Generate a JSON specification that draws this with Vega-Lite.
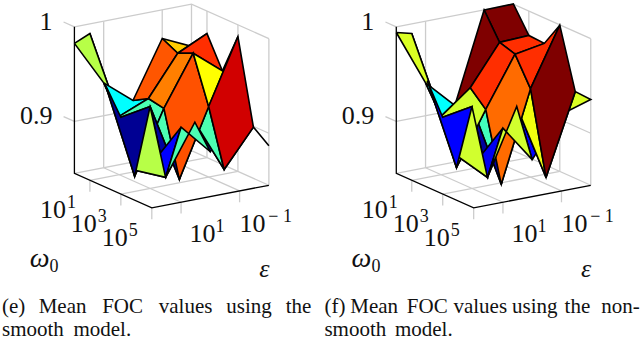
{"$schema":"https://vega.github.io/schema/vega-lite/v6.json","width":640,"height":340,"padding":0,"autosize":{"type":"fit","contains":"padding"},"background":"white","view":{"stroke":null},
"datasets":{
"cells":[
{"p":0,"w0":4,"j0":3,"level":0.1,"z":[0.8604,0.9302,0.8867,0.8992,0.8604]},
{"p":0,"w0":4,"j0":2,"level":0.125,"z":[0.9164,0.8924,0.9302,0.8604,0.9164]},
{"p":0,"w0":3,"j0":2,"level":0.45,"z":[0.8486,0.9164,0.8604,0.9197,0.8486]},
{"p":0,"w0":1,"j0":0,"level":0.02,"z":[1.0002,0.9533,0.8505,0.9067,1.0002]},
{"p":0,"w0":0,"j0":0,"level":0.555,"z":[0.9825,1.0002,0.9067,0.9348,0.9825]},
{"p":0,"w0":0,"j0":1,"level":0.375,"z":[0.9348,0.9067,0.9195,0.9101,0.9348]},
{"p":0,"w0":1,"j0":1,"level":0.45,"z":[0.9067,0.8505,0.9164,0.9195,0.9067]},
{"p":0,"w0":2,"j0":1,"level":0.45,"z":[0.8505,0.9317,0.8486,0.9164,0.8505]},
{"p":0,"w0":3,"j0":1,"level":0.03,"z":[0.9317,0.864,0.9164,0.8486,0.9317]},
{"p":0,"w0":0,"j0":3,"level":0.675,"z":[0.9697,0.9614,0.9762,0.9554,0.9697]},
{"p":0,"w0":1,"j0":3,"level":0.83,"z":[0.9614,0.9687,0.944,0.9762,0.9614]},
{"p":0,"w0":0,"j0":2,"level":0.79,"z":[0.9101,0.9195,0.9614,0.9697,0.9101]},
{"p":0,"w0":1,"j0":2,"level":0.75,"z":[0.9195,0.9164,0.9687,0.9614,0.9195]},
{"p":0,"w0":2,"j0":2,"level":0.795,"z":[0.9164,0.8486,0.9197,0.9687,0.9164]},
{"p":0,"w0":2,"j0":3,"level":0.625,"z":[0.9687,0.9197,0.9877,0.944,0.9687]},
{"p":0,"w0":3,"j0":3,"level":0.92,"z":[0.9197,0.8604,0.8992,0.9877,0.9197]},
{"p":0,"w0":4,"j0":0,"level":0.125,"z":[0.8773,0.8919,0.9244,0.864,0.8773]},
{"p":0,"w0":3,"j0":0,"level":0.555,"z":[0.9263,0.8773,0.864,0.9317,0.9263]},
{"p":0,"w0":2,"j0":0,"level":0.02,"z":[0.9533,0.9263,0.9317,0.8505,0.9533]},
{"p":0,"w0":4,"j0":1,"level":0.45,"z":[0.864,0.9244,0.8924,0.9164,0.864]},
{"p":1,"w0":4,"j0":3,"level":0.59,"z":[0.852,0.926,0.9356,0.9367,0.852]},
{"p":1,"w0":4,"j0":2,"level":0.125,"z":[0.933,0.8841,0.926,0.852,0.933]},
{"p":1,"w0":3,"j0":2,"level":0.61,"z":[0.8434,0.933,0.852,0.9385,0.8434]},
{"p":1,"w0":1,"j0":0,"level":0.12,"z":[1.0002,0.9575,0.8598,0.9067,1.0002]},
{"p":1,"w0":0,"j0":0,"level":0.59,"z":[0.994,1.0002,0.9067,0.9348,0.994]},
{"p":1,"w0":0,"j0":1,"level":0.375,"z":[0.9348,0.9067,0.9309,0.9049,0.9348]},
{"p":1,"w0":2,"j0":1,"level":0.44,"z":[0.8598,0.9317,0.8434,0.9153,0.8598]},
{"p":1,"w0":3,"j0":1,"level":0.03,"z":[0.9317,0.864,0.933,0.8434,0.9317]},
{"p":1,"w0":0,"j0":3,"level":1,"z":[0.9999,0.9729,0.9742,1.0002,0.9999]},
{"p":1,"w0":1,"j0":3,"level":0.83,"z":[0.9729,0.9677,0.9731,0.9742,0.9729]},
{"p":1,"w0":0,"j0":2,"level":1,"z":[0.9049,0.9309,0.9729,0.9999,0.9049]},
{"p":1,"w0":1,"j0":1,"level":0.58,"z":[0.9067,0.8598,0.9153,0.9309,0.9067]},
{"p":1,"w0":1,"j0":2,"level":0.83,"z":[0.9309,0.9153,0.9677,0.9729,0.9309]},
{"p":1,"w0":2,"j0":2,"level":0.77,"z":[0.9153,0.8434,0.9385,0.9677,0.9153]},
{"p":1,"w0":2,"j0":3,"level":0.83,"z":[0.9677,0.9385,0.9997,0.9731,0.9677]},
{"p":1,"w0":3,"j0":3,"level":1,"z":[0.9385,0.852,0.9367,0.9997,0.9385]},
{"p":1,"w0":4,"j0":0,"level":0.11,"z":[0.8919,0.8908,0.9234,0.864,0.8919]},
{"p":1,"w0":3,"j0":0,"level":0.58,"z":[0.9263,0.8919,0.864,0.9317,0.9263]},
{"p":1,"w0":2,"j0":0,"level":0.125,"z":[0.9575,0.9263,0.9317,0.8598,0.9575]},
{"p":1,"w0":4,"j0":1,"level":0.58,"z":[0.864,0.9234,0.8841,0.933,0.864]}
],
"grid":[
{"l":"top","w":[0,0,5],"j":[0,4,4],"z":[1,1,1],"k":[0,1,2]},
{"l":"mid","w":[0,0,5],"j":[0,4,4],"z":[0.9,0.9,0.9],"k":[0,1,2]},
{"l":"back","w":[0,0,5],"j":[0,4,4],"z":[0.845,0.845,0.845],"k":[0,1,2]},
{"l":"v1","w":[0,0],"j":[4,4],"z":[0.845,1],"k":[0,1]},
{"l":"v2","w":[5,5],"j":[4,4],"z":[0.845,1],"k":[0,1]},
{"l":"v3","w":[0,0],"j":[1,1],"z":[0.845,1],"k":[0,1]},
{"l":"v4","w":[0,0],"j":[3,3],"z":[0.845,1],"k":[0,1]},
{"l":"v5","w":[1,1],"j":[4,4],"z":[0.845,1],"k":[0,1]},
{"l":"v6","w":[3,3],"j":[4,4],"z":[0.845,1],"k":[0,1]},
{"l":"f1","w":[0,5],"j":[1,1],"z":[0.845,0.845],"k":[0,1]},
{"l":"f2","w":[0,5],"j":[3,3],"z":[0.845,0.845],"k":[0,1]},
{"l":"f3","w":[1,1],"j":[0,4],"z":[0.845,0.845],"k":[0,1]},
{"l":"f4","w":[3,3],"j":[0,4],"z":[0.845,0.845],"k":[0,1]},
{"l":"t1","w":[-0.7,0],"j":[0,0],"z":[1,1],"k":[0,1]},
{"l":"t2","w":[-0.7,0],"j":[0,0],"z":[0.9,0.9],"k":[0,1]},
{"l":"t3","w":[1,1],"j":[0,0],"z":[0.845,0.833],"k":[0,1]},
{"l":"t4","w":[3,3],"j":[0,0],"z":[0.845,0.833],"k":[0,1]},
{"l":"t5","w":[5,5],"j":[0,0],"z":[0.845,0.833],"k":[0,1]},
{"l":"t6","w":[5,5],"j":[1,1],"z":[0.845,0.833],"k":[0,1]},
{"l":"t7","w":[5,5],"j":[3,3],"z":[0.845,0.833],"k":[0,1]}
],
"axes":[{"l":"a","w":[0,0,5,5],"j":[0,0,0,4],"z":[1,0.845,0.845,0.845],"k":[0,1,2,3]}],
"ticks":[
{"axis":"z","w":0,"j":0,"z":1,"base":"1"},
{"axis":"z","w":0,"j":0,"z":0.9,"base":"0.9"},
{"axis":"omega","w":1,"j":0,"z":0.845,"base":"10","exp":"1"},
{"axis":"omega","w":3,"j":0,"z":0.845,"base":"10","exp":"3"},
{"axis":"omega","w":5,"j":0,"z":0.845,"base":"10","exp":"5"},
{"axis":"eps1","w":5,"j":1,"z":0.845,"base":"10","exp":"1"},
{"axis":"eps3","w":5,"j":3,"z":0.845,"base":"10","exp":"− 1"},
{"axis":"wtitle","w":2.5,"j":0,"z":0.845,"base":"ω","exp":"0"},
{"axis":"etitle","w":5,"j":2,"z":0.845,"base":"ε"}
],
"captions":[
{"word":"(e)","x":2,"line":0},{"word":"Mean","x":39,"line":0},{"word":"FOC","x":103,"line":0},{"word":"values","x":160,"line":0},{"word":"using","x":228,"line":0},{"word":"the","x":288,"line":0},
{"word":"smooth","x":2,"line":1},{"word":"model.","x":74,"line":1},
{"word":"(f)","x":327,"line":0},{"word":"Mean","x":353,"line":0},{"word":"FOC","x":410,"line":0},{"word":"values","x":457,"line":0},{"word":"using","x":516,"line":0},{"word":"the","x":569,"line":0},{"word":"non-","x":606,"line":0},
{"word":"smooth","x":327,"line":1},{"word":"model.","x":398,"line":1}
]
},
"layer":[
{"data":{"name":"grid"},
"transform":[{"flatten":["w","j","z","k"]},{"calculate":"[0,1]","as":"ps"},{"flatten":["ps"]},
{"calculate":"75+324.4*datum.ps+15.6*datum.w+29.5*datum.j","as":"px"},{"calculate":"174+7*datum.w-5.75*datum.j-960*(datum.z-0.845)","as":"py"}],
"mark":{"type":"line","stroke":"#cccccc","strokeWidth":1.3},
"encoding":{"x":{"field":"px","type":"quantitative","scale":{"domain":[0,640],"nice":false,"zero":false},"axis":null},"y":{"field":"py","type":"quantitative","scale":{"domain":[0,340],"reverse":true,"nice":false,"zero":false},"axis":null},"detail":[{"field":"l"},{"field":"ps"}],"order":{"field":"k"}}},
{"data":{"name":"axes"},
"transform":[{"flatten":["w","j","z","k"]},{"calculate":"[0,1]","as":"ps"},{"flatten":["ps"]},
{"calculate":"75+324.4*datum.ps+15.6*datum.w+29.5*datum.j","as":"px"},{"calculate":"174+7*datum.w-5.75*datum.j-960*(datum.z-0.845)","as":"py"}],
"mark":{"type":"line","stroke":"#000000","strokeWidth":1.3},
"encoding":{"x":{"field":"px","type":"quantitative"},"y":{"field":"py","type":"quantitative"},"detail":[{"field":"l"},{"field":"ps"}],"order":{"field":"k"}}},
{"data":{"name":"cells"},
"transform":[{"calculate":"[0,1,2,3,4]","as":"k"},{"flatten":["z","k"]},
{"calculate":"datum.w0+((datum.k==1||datum.k==2)?1:0)","as":"w"},{"calculate":"datum.j0+((datum.k==2||datum.k==3)?1:0)","as":"j"},
{"calculate":"75+324.4*datum.p+15.6*datum.w+29.5*datum.j","as":"px"},{"calculate":"174+7*datum.w-5.75*datum.j-960*(datum.z-0.845)","as":"py"}],
"mark":{"type":"line","stroke":"#000000","strokeWidth":1.6,"strokeJoin":"miter","strokeMiterLimit":4,"fillOpacity":1},
"encoding":{"x":{"field":"px","type":"quantitative"},"y":{"field":"py","type":"quantitative"},"detail":[{"field":"p"},{"field":"w0"},{"field":"j0"}],"order":{"field":"k"},
"fill":{"field":"level","type":"quantitative","legend":null,"scale":{"interpolate":"rgb","domain":[0,0.125,0.25,0.375,0.5,0.625,0.75,0.875,1],"range":["#00007f","#0000ff","#007fff","#00ffff","#7fff7f","#ffff00","#ff7f00","#ff0000","#7f0000"]}}}},
{"data":{"name":"ticks"},"transform":[{"filter":"datum.axis=='z'"},{"calculate":"[0,1]","as":"ps"},{"flatten":["ps"]},{"calculate":"75+324.4*datum.ps+15.6*datum.w+29.5*datum.j","as":"px"},{"calculate":"174+7*datum.w-5.75*datum.j-960*(datum.z-0.845)","as":"py"}],
"mark":{"type":"text","font":"Liberation Serif","fontSize":26,"align":"right","baseline":"alphabetic","dx":-22,"dy":3,"color":"#111"},
"encoding":{"x":{"field":"px","type":"quantitative"},"y":{"field":"py","type":"quantitative"},"text":{"field":"base"}}},
{"data":{"name":"ticks"},"transform":[{"filter":"datum.axis=='omega'"},{"calculate":"[0,1]","as":"ps"},{"flatten":["ps"]},{"calculate":"75+324.4*datum.ps+15.6*datum.w+29.5*datum.j","as":"px"},{"calculate":"174+7*datum.w-5.75*datum.j-960*(datum.z-0.845)","as":"py"}],
"mark":{"type":"text","font":"Liberation Serif","fontSize":26,"align":"center","baseline":"alphabetic","dx":-37,"dy":38,"color":"#111"},
"encoding":{"x":{"field":"px","type":"quantitative"},"y":{"field":"py","type":"quantitative"},"text":{"field":"base"}}},
{"data":{"name":"ticks"},"transform":[{"filter":"datum.axis=='omega'"},{"calculate":"[0,1]","as":"ps"},{"flatten":["ps"]},{"calculate":"75+324.4*datum.ps+15.6*datum.w+29.5*datum.j","as":"px"},{"calculate":"174+7*datum.w-5.75*datum.j-960*(datum.z-0.845)","as":"py"}],
"mark":{"type":"text","font":"Liberation Serif","fontSize":18,"align":"center","baseline":"alphabetic","dx":-18.5,"dy":28,"color":"#111"},
"encoding":{"x":{"field":"px","type":"quantitative"},"y":{"field":"py","type":"quantitative"},"text":{"field":"exp"}}},
{"data":{"name":"ticks"},"transform":[{"filter":"datum.axis=='eps1'"},{"calculate":"[0,1]","as":"ps"},{"flatten":["ps"]},{"calculate":"75+324.4*datum.ps+15.6*datum.w+29.5*datum.j","as":"px"},{"calculate":"174+7*datum.w-5.75*datum.j-960*(datum.z-0.845)","as":"py"}],
"mark":{"type":"text","font":"Liberation Serif","fontSize":26,"align":"center","baseline":"alphabetic","dx":21.5,"dy":40,"color":"#111"},
"encoding":{"x":{"field":"px","type":"quantitative"},"y":{"field":"py","type":"quantitative"},"text":{"field":"base"}}},
{"data":{"name":"ticks"},"transform":[{"filter":"datum.axis=='eps1'"},{"calculate":"[0,1]","as":"ps"},{"flatten":["ps"]},{"calculate":"75+324.4*datum.ps+15.6*datum.w+29.5*datum.j","as":"px"},{"calculate":"174+7*datum.w-5.75*datum.j-960*(datum.z-0.845)","as":"py"}],
"mark":{"type":"text","font":"Liberation Serif","fontSize":18,"align":"center","baseline":"alphabetic","dx":39,"dy":30,"color":"#111"},
"encoding":{"x":{"field":"px","type":"quantitative"},"y":{"field":"py","type":"quantitative"},"text":{"field":"exp"}}},
{"data":{"name":"ticks"},"transform":[{"filter":"datum.axis=='eps3'"},{"calculate":"[0,1]","as":"ps"},{"flatten":["ps"]},{"calculate":"75+324.4*datum.ps+15.6*datum.w+29.5*datum.j","as":"px"},{"calculate":"174+7*datum.w-5.75*datum.j-960*(datum.z-0.845)","as":"py"}],
"mark":{"type":"text","font":"Liberation Serif","fontSize":26,"align":"center","baseline":"alphabetic","dx":13,"dy":41,"color":"#111"},
"encoding":{"x":{"field":"px","type":"quantitative"},"y":{"field":"py","type":"quantitative"},"text":{"field":"base"}}},
{"data":{"name":"ticks"},"transform":[{"filter":"datum.axis=='eps3'"},{"calculate":"[0,1]","as":"ps"},{"flatten":["ps"]},{"calculate":"75+324.4*datum.ps+15.6*datum.w+29.5*datum.j","as":"px"},{"calculate":"174+7*datum.w-5.75*datum.j-960*(datum.z-0.845)","as":"py"}],
"mark":{"type":"text","font":"Liberation Serif","fontSize":18,"align":"center","baseline":"alphabetic","dx":40.5,"dy":31,"color":"#111"},
"encoding":{"x":{"field":"px","type":"quantitative"},"y":{"field":"py","type":"quantitative"},"text":{"field":"exp"}}},
{"data":{"name":"ticks"},"transform":[{"filter":"datum.axis=='wtitle'"},{"calculate":"[0,1]","as":"ps"},{"flatten":["ps"]},{"calculate":"75+324.4*datum.ps+15.6*datum.w+29.5*datum.j","as":"px"},{"calculate":"174+7*datum.w-5.75*datum.j-960*(datum.z-0.845)","as":"py"}],
"mark":{"type":"text","font":"Liberation Serif","fontSize":28,"fontStyle":"italic","align":"center","baseline":"alphabetic","dx":-73.5,"dy":76.5,"color":"#111"},
"encoding":{"x":{"field":"px","type":"quantitative"},"y":{"field":"py","type":"quantitative"},"text":{"field":"base"}}},
{"data":{"name":"ticks"},"transform":[{"filter":"datum.axis=='wtitle'"},{"calculate":"[0,1]","as":"ps"},{"flatten":["ps"]},{"calculate":"75+324.4*datum.ps+15.6*datum.w+29.5*datum.j","as":"px"},{"calculate":"174+7*datum.w-5.75*datum.j-960*(datum.z-0.845)","as":"py"}],
"mark":{"type":"text","font":"Liberation Serif","fontSize":18,"align":"center","baseline":"alphabetic","dx":-59,"dy":81.5,"color":"#111"},
"encoding":{"x":{"field":"px","type":"quantitative"},"y":{"field":"py","type":"quantitative"},"text":{"field":"exp"}}},
{"data":{"name":"ticks"},"transform":[{"filter":"datum.axis=='etitle'"},{"calculate":"[0,1]","as":"ps"},{"flatten":["ps"]},{"calculate":"75+324.4*datum.ps+15.6*datum.w+29.5*datum.j","as":"px"},{"calculate":"174+7*datum.w-5.75*datum.j-960*(datum.z-0.845)","as":"py"}],
"mark":{"type":"text","font":"Liberation Serif","fontSize":26,"fontStyle":"italic","align":"center","baseline":"alphabetic","dx":54,"dy":80.5,"color":"#111"},
"encoding":{"x":{"field":"px","type":"quantitative"},"y":{"field":"py","type":"quantitative"},"text":{"field":"base"}}},
{"data":{"name":"captions"},"transform":[{"calculate":"316+23*datum.line","as":"py"}],
"mark":{"type":"text","font":"Liberation Serif","fontSize":21,"align":"left","baseline":"alphabetic","color":"#111"},
"encoding":{"x":{"field":"x","type":"quantitative"},"y":{"field":"py","type":"quantitative"},"text":{"field":"word"}}}
]}
